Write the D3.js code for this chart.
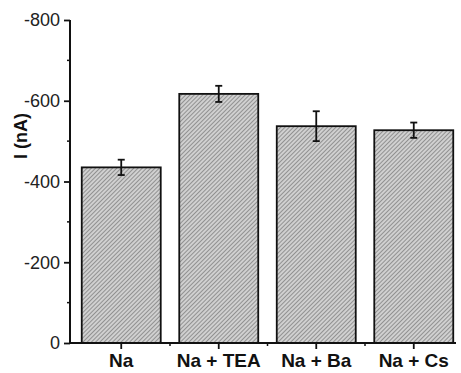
<!DOCTYPE html>
<html>
<head>
<meta charset="utf-8">
<script src="https://cdn.jsdelivr.net/npm/d3@7"></script>
<style>
  body { margin: 0; background: #fff; }
  svg { display: block; }
</style>
</head>
<body>
<svg id="chart" width="461" height="373"></svg>
<script>
// bar data (current in nA, plotted on an inverted negative axis)
var categories = ['Na', 'Na + TEA', 'Na + Ba', 'Na + Cs'];
var values = [-435, -617, -537, -527];
var errors = [19, 20, 37, 19];
var yTicks = [0, -200, -400, -600, -800];
var yMinorTicks = [-100, -300, -500, -700];

var svg = d3.select('#chart');

// hatch pattern for the bars
var defs = svg.append('defs');
var pat = defs.append('pattern')
  .attr('id', 'hatch')
  .attr('patternUnits', 'userSpaceOnUse')
  .attr('width', 3)
  .attr('height', 3)
  .attr('patternTransform', 'rotate(45)');
pat.append('rect').attr('width', 3).attr('height', 3).attr('fill', '#d0d0d0');
pat.append('line')
  .attr('x1', 0).attr('y1', 0).attr('x2', 0).attr('y2', 3)
  .attr('stroke', '#6e6e6e').attr('stroke-width', 1.3);

var x = d3.scaleBand()
  .domain(categories)
  .range([72, 463])
  .paddingInner(0.19)
  .paddingOuter(0.1);

var y = d3.scaleLinear()
  .domain([0, -800])
  .range([343, 20]);

// bars
svg.selectAll('rect.bar')
  .data(values)
  .enter()
  .append('rect')
  .attr('class', 'bar')
  .attr('x', function(d, i) { return x(categories[i]); })
  .attr('y', function(d) { return y(d); })
  .attr('width', x.bandwidth())
  .attr('height', function(d) { return y(0) - y(d); })
  .attr('fill', 'url(#hatch)')
  .attr('stroke', '#111')
  .attr('stroke-width', 1.8);

// error bars
var eb = svg.selectAll('g.err')
  .data(values)
  .enter()
  .append('g')
  .attr('class', 'err')
  .attr('stroke', '#111')
  .attr('stroke-width', 1.8);
function cx(i) { return x(categories[i]) + x.bandwidth() / 2; }
eb.append('line')
  .attr('x1', function(d, i) { return cx(i); })
  .attr('x2', function(d, i) { return cx(i); })
  .attr('y1', function(d, i) { return y(d - errors[i]); })
  .attr('y2', function(d, i) { return y(d + errors[i]); });
eb.append('line')
  .attr('x1', function(d, i) { return cx(i) - 3.5; })
  .attr('x2', function(d, i) { return cx(i) + 3.5; })
  .attr('y1', function(d, i) { return y(d - errors[i]); })
  .attr('y2', function(d, i) { return y(d - errors[i]); });
eb.append('line')
  .attr('x1', function(d, i) { return cx(i) - 3.5; })
  .attr('x2', function(d, i) { return cx(i) + 3.5; })
  .attr('y1', function(d, i) { return y(d + errors[i]); })
  .attr('y2', function(d, i) { return y(d + errors[i]); });

// y axis
var yAxis = svg.append('g')
  .attr('transform', 'translate(70,0)')
  .call(d3.axisLeft(y).tickValues(yTicks)
    .tickFormat(function(d) { return String(d); })
    .tickSize(6).tickPadding(4).tickSizeOuter(0));
yAxis.select('.domain').attr('stroke', '#111').attr('stroke-width', 2)
  .attr('d', 'M0,' + y(-800) + 'V' + (y(0) + 1));
yAxis.selectAll('.tick line').attr('stroke', '#111').attr('stroke-width', 1.8);
yAxis.selectAll('.tick text')
  .style('font-family', 'Liberation Sans, Arial, sans-serif')
  .style('font-size', '18px')
  .attr('fill', '#222');
yAxis.selectAll('line.minor')
  .data(yMinorTicks)
  .enter()
  .append('line')
  .attr('class', 'minor')
  .attr('x1', -3).attr('x2', 0)
  .attr('y1', function(d) { return y(d); })
  .attr('y2', function(d) { return y(d); })
  .attr('stroke', '#111').attr('stroke-width', 1.5);

// x axis
var xAxis = svg.append('g')
  .attr('transform', 'translate(0,' + y(0) + ')')
  .call(d3.axisBottom(x).tickSize(6).tickPadding(5).tickSizeOuter(0));
xAxis.select('.domain').attr('stroke', '#111').attr('stroke-width', 2)
  .attr('d', 'M69,0H456');
xAxis.selectAll('.tick line').attr('stroke', '#111').attr('stroke-width', 1.8);
xAxis.selectAll('.tick text')
  .style('font-family', 'Liberation Sans, Arial, sans-serif')
  .style('font-size', '19px')
  .style('font-weight', 'bold')
  .attr('fill', '#111');
var minorX = categories.slice(1).map(function(c) {
  return x(c) - x.step() * x.paddingInner() / 2;
});
xAxis.selectAll('line.minor')
  .data(minorX)
  .enter()
  .append('line')
  .attr('class', 'minor')
  .attr('x1', function(d) { return d; })
  .attr('x2', function(d) { return d; })
  .attr('y1', 0).attr('y2', 3)
  .attr('stroke', '#111').attr('stroke-width', 1.5);

// y label
svg.append('text')
  .attr('transform', 'translate(27,136) rotate(-90)')
  .attr('text-anchor', 'middle')
  .style('font-family', 'Liberation Sans, Arial, sans-serif')
  .style('font-size', '18px')
  .style('font-weight', 'bold')
  .attr('fill', '#111')
  .text('I (nA)');
</script>
</body>
</html>
